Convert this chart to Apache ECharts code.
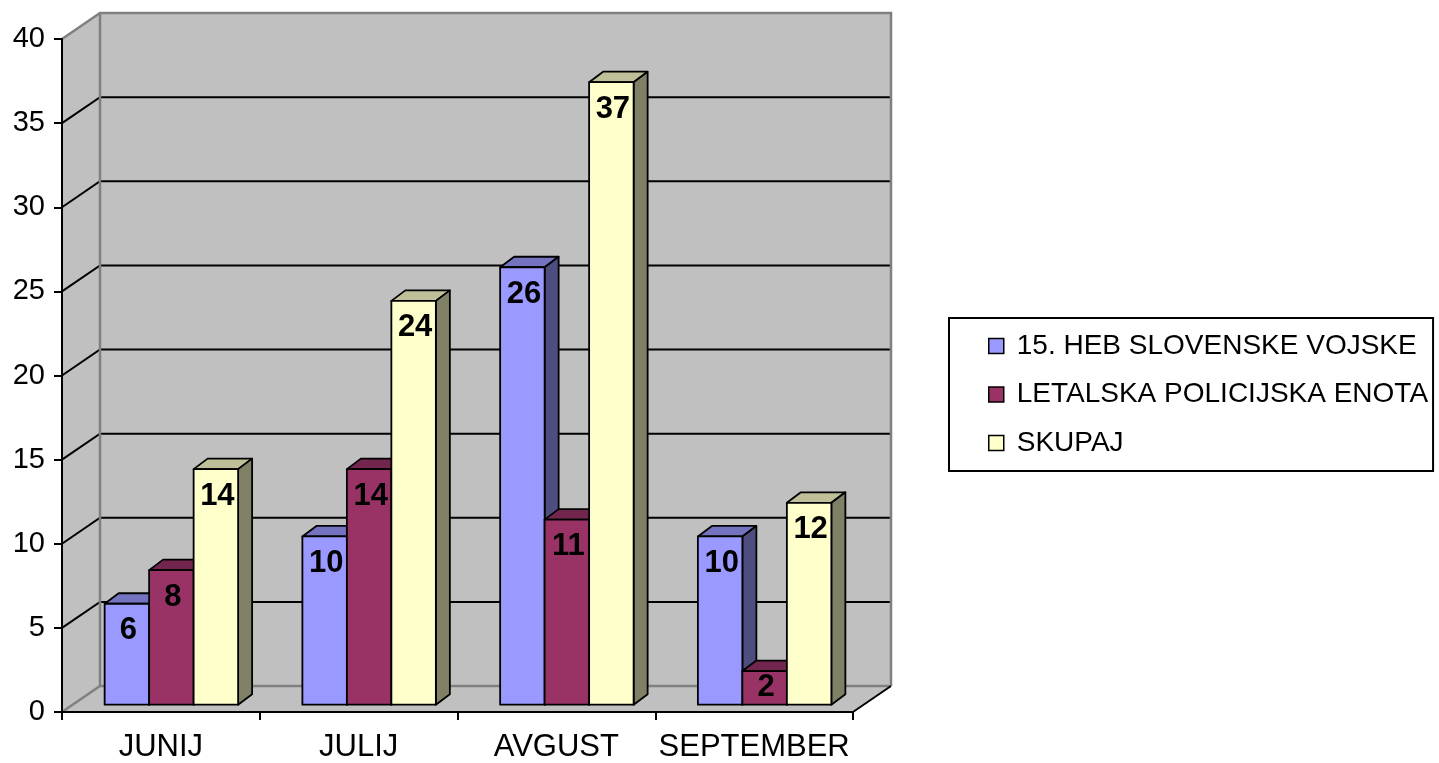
<!DOCTYPE html>
<html>
<head>
<meta charset="utf-8">
<script src="https://cdn.jsdelivr.net/npm/echarts@6/dist/echarts.min.js"></script>
<style>
html,body{margin:0;padding:0;background:#fff;}
#chart{width:1439px;height:763px;}
</style>
</head>
<body>
<div id="chart"></div>
<script>
const categories = ['JUNIJ', 'JULIJ', 'AVGUST', 'SEPTEMBER'];
const seriesNames = ['15. HEB SLOVENSKE VOJSKE', 'LETALSKA POLICIJSKA ENOTA', 'SKUPAJ'];
const hebValues = [6, 10, 26, 10];
const lpeValues = [8, 14, 11, 2];
const skupajValues = [14, 24, 37, 12];
const yTicks = [0, 5, 10, 15, 20, 25, 30, 35, 40];

const FONT = '"Liberation Sans", Arial, sans-serif';
const frontColors = ['#9999FF', '#993366', '#FFFFCC'];
const topColors = ['#7373BF', '#73264D', '#BFBF99'];
const sideColors = ['#4D4D80', '#4D1A33', '#808066'];

// 3D projection constants (pixels)
const WALL_DX = 38, WALL_DY = -26;
const FRONT_DX = 10.5, FRONT_DY = -7.3;
const BAR_DX = 14, BAR_DY = -10.5;
const BAR_FRAC = 0.225;

function wallsRender(params, api) {
  const cs = params.coordSys;
  const L = cs.x, R = cs.x + cs.width, T = cs.y, B = cs.y + cs.height;
  const gray = '#808080';
  const children = [];
  children.push({ type: 'polygon', shape: { points: [[L + WALL_DX, T + WALL_DY], [R + WALL_DX, T + WALL_DY], [R + WALL_DX, B + WALL_DY], [L + WALL_DX, B + WALL_DY]] }, style: { fill: '#C0C0C0', stroke: null } });
  children.push({ type: 'polygon', shape: { points: [[L, T], [L + WALL_DX, T + WALL_DY], [L + WALL_DX, B + WALL_DY], [L, B]] }, style: { fill: '#C0C0C0', stroke: null } });
  children.push({ type: 'polygon', shape: { points: [[L, B], [R, B], [R + WALL_DX, B + WALL_DY], [L + WALL_DX, B + WALL_DY]] }, style: { fill: '#C0C0C0', stroke: null } });
  yTicks.forEach(function (v) {
    if (v === 0 || v === 40) return;
    const y = api.coord([0, v])[1];
    children.push({ type: 'polyline', shape: { points: [[L, y], [L + WALL_DX, y + WALL_DY], [R + WALL_DX, y + WALL_DY]] }, style: { stroke: '#000', lineWidth: 2, fill: null } });
  });
  children.push({ type: 'polyline', shape: { points: [[L, T], [L + WALL_DX, T + WALL_DY], [R + WALL_DX, T + WALL_DY], [R + WALL_DX, B + WALL_DY]] }, style: { stroke: gray, lineWidth: 2.5, fill: null } });
  children.push({ type: 'polyline', shape: { points: [[L + WALL_DX, T + WALL_DY], [L + WALL_DX, B + WALL_DY]] }, style: { stroke: gray, lineWidth: 2.5, fill: null } });
  children.push({ type: 'polyline', shape: { points: [[L, B], [L + WALL_DX, B + WALL_DY], [R + WALL_DX, B + WALL_DY]] }, style: { stroke: gray, lineWidth: 2.5, fill: null } });
  children.push({ type: 'polyline', shape: { points: [[R, B], [R + WALL_DX, B + WALL_DY]] }, style: { stroke: '#000', lineWidth: 2, fill: null } });
  return { type: 'group', children: children };
}

function makeBarRender(sIdx) {
  return function (params, api) {
    const cat = api.value(0), val = api.value(1);
    const base = api.coord([cat, 0]);
    const topPt = api.coord([cat, val]);
    const band = api.size([1, 0])[0];
    const bw = band * BAR_FRAC;
    const x0 = base[0] - 1.5 * bw + FRONT_DX + sIdx * bw;
    const x1 = x0 + bw;
    const yb = base[1] + FRONT_DY;
    const yt = topPt[1] + FRONT_DY;
    const st = { stroke: '#000', lineWidth: 1.8, lineJoin: 'round' };
    const children = [
      { type: 'polygon', shape: { points: [[x0, yt], [x1, yt], [x1 + BAR_DX, yt + BAR_DY], [x0 + BAR_DX, yt + BAR_DY]] }, style: Object.assign({ fill: topColors[sIdx] }, st) },
      { type: 'polygon', shape: { points: [[x1, yt], [x1 + BAR_DX, yt + BAR_DY], [x1 + BAR_DX, yb + BAR_DY], [x1, yb]] }, style: Object.assign({ fill: sideColors[sIdx] }, st) },
      { type: 'polygon', shape: { points: [[x0, yt], [x1, yt], [x1, yb], [x0, yb]] }, style: Object.assign({ fill: frontColors[sIdx] }, st) },
      { type: 'text', z2: 10, style: { text: String(val), x: (x0 + x1) / 2 + 1.5, y: Math.min(yt + 27, (yt + yb) / 2), align: 'center', verticalAlign: 'middle', font: 'bold 31px ' + FONT, fill: '#000' } }
    ];
    return { type: 'group', children: children };
  };
}

const allValues = [hebValues, lpeValues, skupajValues];

const barSeries = seriesNames.map(function (name, i) {
  return {
    name: name,
    type: 'custom',
    z: 3,
    renderItem: makeBarRender(i),
    itemStyle: { color: frontColors[i], borderColor: '#000', borderWidth: 1.5 },
    encode: { x: 0, y: 1 },
    data: allValues[i].map(function (v, k) { return [k, v]; })
  };
});

const option = {
  backgroundColor: '#fff',
  animation: false,
  grid: { left: 62, right: 586, top: 39, bottom: 50, containLabel: false },
  xAxis: {
    type: 'category',
    data: categories,
    z: 10,
    boundaryGap: true,
    axisLine: { lineStyle: { color: '#000', width: 2 } },
    axisTick: { show: true, length: 8, lineStyle: { color: '#000', width: 2 } },
    axisLabel: { color: '#000', fontSize: 31, fontFamily: FONT, margin: 20, interval: 0 },
    splitLine: { show: false }
  },
  yAxis: {
    type: 'value',
    min: 0, max: 40, interval: 5,
    z: 10,
    axisLine: { show: true, lineStyle: { color: '#000', width: 2 } },
    axisTick: { show: true, length: 8, lineStyle: { color: '#000', width: 2 } },
    axisLabel: { color: '#000', fontSize: 29, fontFamily: FONT, margin: 17 },
    splitLine: { show: false }
  },
  legend: {
    orient: 'vertical',
    left: 949, top: 318,
    padding: [14, 5, 14, 39],
    itemWidth: 15, itemHeight: 15,
    itemGap: 20.5,
    borderColor: '#000', borderWidth: 2,
    icon: 'rect',
    itemStyle: { borderColor: '#000', borderWidth: 1.5 },
    textStyle: { color: '#000', fontSize: 28, fontFamily: FONT, lineHeight: 28, padding: [0, 0, 0, 8] },
    data: seriesNames
  },
  series: [{
    name: 'walls',
    type: 'custom',
    z: 1,
    silent: true,
    renderItem: wallsRender,
    data: [[0, 0]]
  }].concat(barSeries)
};

const chart = echarts.init(document.getElementById('chart'));
chart.setOption(option);
</script>
</body>
</html>
